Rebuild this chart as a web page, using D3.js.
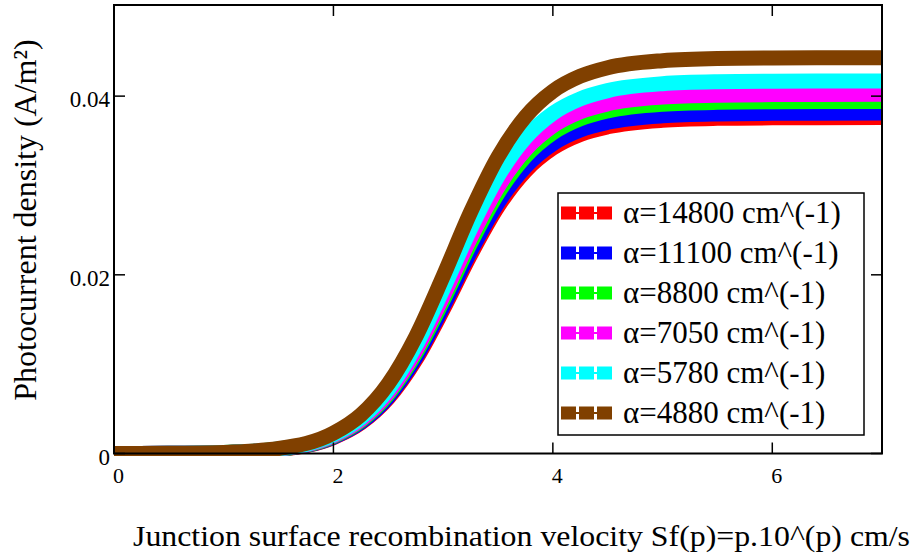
<!DOCTYPE html>
<html>
<head>
<meta charset="utf-8">
<script src="https://cdn.jsdelivr.net/npm/d3@7"></script>
<style>
  html, body { margin: 0; padding: 0; background: #fff; }
  svg { display: block; }
  svg text { font-family: "Liberation Serif", "Times New Roman", Times, Tinos, "DejaVu Serif", serif; }
</style>
</head>
<body>
<svg id="chart" width="912" height="556"></svg>
<script>
// ---- data ----
const pValues = [0, 0.5, 1, 1.5, 2, 2.25, 2.5, 2.75, 3, 3.25, 3.5, 3.75, 4, 4.25, 4.5, 5, 5.5, 6, 7];
const seriesLabels = ["α=14800 cm^(-1)", "α=11100 cm^(-1)", "α=8800 cm^(-1)", "α=7050 cm^(-1)", "α=5780 cm^(-1)", "α=4880 cm^(-1)"];
const seriesColors = ["#ff0000", "#0000ff", "#00ff00", "#ff00ff", "#00ffff", "#804000"];
const jRed     = [0, 0.000015, 0.000094, 0.00044, 0.00179, 0.00342, 0.0062, 0.01048, 0.01611, 0.02222, 0.02762, 0.03161, 0.03418, 0.03571, 0.03657, 0.0373, 0.03751, 0.03757, 0.0376];
const jBlue    = [0, 0.000015, 0.000096, 0.000452, 0.001836, 0.003503, 0.00635, 0.01072, 0.01645, 0.02263, 0.02808, 0.03209, 0.03468, 0.03621, 0.03707, 0.0378, 0.03801, 0.03807, 0.0381];
const jGreen   = [0, 0.000016, 0.000101, 0.000473, 0.001922, 0.003665, 0.00664, 0.01119, 0.01713, 0.02352, 0.02913, 0.03325, 0.0359, 0.03747, 0.03835, 0.0391, 0.03931, 0.03937, 0.0394];
const jMagenta = [0, 0.0000165, 0.000104, 0.000489, 0.001985, 0.003784, 0.00685, 0.01152, 0.01761, 0.02413, 0.02983, 0.03399, 0.03667, 0.03825, 0.03914, 0.03989, 0.04011, 0.04017, 0.0402];
const jCyan    = [0, 0.0000173, 0.000109, 0.000514, 0.002085, 0.00397, 0.00718, 0.01206, 0.0184, 0.02516, 0.03104, 0.03533, 0.03808, 0.0397, 0.04062, 0.04139, 0.04161, 0.04167, 0.0417];
const jBrown   = [0, 0.0000189, 0.00012, 0.00056, 0.00227, 0.00432, 0.0078, 0.01306, 0.01984, 0.02701, 0.0332, 0.03769, 0.04055, 0.04223, 0.04318, 0.04397, 0.04421, 0.04427, 0.0443];
const xTicks = [0, 2, 4, 6];
const yTicks = [0, 0.02, 0.04];
const yTickLabels = ["0", "0.02", "0.04"];
const xTitle = "Junction surface recombination velocity Sf(p)=p.10^(p) cm/s";
const yTitle = "Photocurrent density (A/m²)";

const allSeries = [jRed, jBlue, jGreen, jMagenta, jCyan, jBrown];

// ---- layout ----
const L = 114, R = 882, T = 5, B = 453.5;
const svg = d3.select("#chart");
const x = d3.scaleLinear().domain([0, 7]).range([L, R]);
const y = d3.scaleLinear().domain([0, 0.0502]).range([B, T]);

svg.append("defs").append("clipPath").attr("id", "plotclip")
  .append("rect").attr("x", L).attr("y", T).attr("width", R - L).attr("height", 456 - T);

const line = d3.line()
  .x((d, i) => x(pValues[i]))
  .y(d => y(d))
  .curve(d3.curveMonotoneX);

const g = svg.append("g").attr("clip-path", "url(#plotclip)");
allSeries.forEach((s, k) => {
  g.append("path")
    .attr("d", line(s))
    .attr("fill", "none")
    .attr("stroke", seriesColors[k])
    .attr("stroke-width", 15)
    .attr("stroke-linejoin", "round");
});

// frame
svg.append("rect").attr("x", L).attr("y", T).attr("width", R - L).attr("height", B - T)
  .attr("fill", "none").attr("stroke", "#000").attr("stroke-width", 2);

// ticks (inward, on all sides)
const tk = 11;
xTicks.forEach(t => {
  svg.append("line").attr("x1", x(t)).attr("x2", x(t)).attr("y1", B).attr("y2", B - tk).attr("stroke", "#000").attr("stroke-width", 1.5);
  svg.append("line").attr("x1", x(t)).attr("x2", x(t)).attr("y1", T).attr("y2", T + tk).attr("stroke", "#000").attr("stroke-width", 1.5);
  svg.append("text").attr("x", x(t) - 1).attr("y", 483).attr("font-size", 22).text(String(t));
});
yTicks.forEach((t, i) => {
  svg.append("line").attr("x1", L).attr("x2", L + tk).attr("y1", y(t)).attr("y2", y(t)).attr("stroke", "#000").attr("stroke-width", 1.5);
  svg.append("line").attr("x1", R).attr("x2", R - tk).attr("y1", y(t)).attr("y2", y(t)).attr("stroke", "#000").attr("stroke-width", 1.5);
  svg.append("text").attr("x", 110).attr("y", y(t) + 11).attr("text-anchor", "end").attr("font-size", 23).text(yTickLabels[i]);
});

// axis titles
svg.append("text").attr("x", 133).attr("y", 546).attr("font-size", 30)
  .attr("textLength", 777).attr("lengthAdjust", "spacingAndGlyphs").text(xTitle);
svg.append("text").attr("transform", "translate(36,220) rotate(-90)").attr("text-anchor", "middle")
  .attr("font-size", 32).text(yTitle);

// legend
const lg = svg.append("g");
lg.append("rect").attr("x", 558).attr("y", 193).attr("width", 306).attr("height", 242)
  .attr("fill", "#fff").attr("stroke", "#000").attr("stroke-width", 1.5);
seriesLabels.forEach((lab, k) => {
  const cy = 213 + k * 40;
  lg.append("line").attr("x1", 561).attr("x2", 611).attr("y1", cy).attr("y2", cy)
    .attr("stroke", seriesColors[k]).attr("stroke-width", 2);
  [561, 579, 597].forEach(sx => {
    lg.append("rect").attr("x", sx).attr("y", cy - 6.5).attr("width", 15).attr("height", 13)
      .attr("fill", seriesColors[k]);
  });
  lg.append("text").attr("x", 623).attr("y", cy + 10).attr("font-size", 31).text(lab);
});
</script>
</body>
</html>
